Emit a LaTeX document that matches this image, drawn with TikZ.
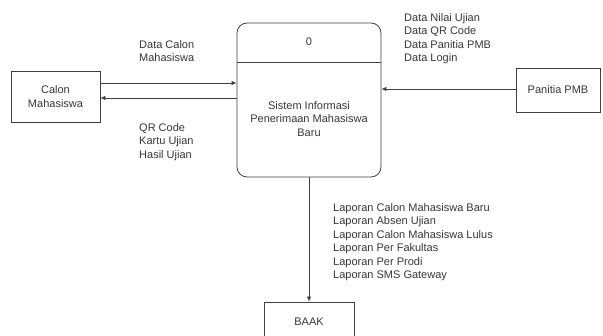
\documentclass[tikz,border=0pt]{standalone}
\usepackage{fontspec}
\setmainfont{Liberation Sans}
\usetikzlibrary{arrows.meta,calc}
\definecolor{ln}{HTML}{404040}
\definecolor{tx}{HTML}{383838}
\begin{document}
\begin{tikzpicture}[x=1pt,y=-1pt,
  every node/.style={text=tx,font=\fontsize{11}{13.5}\selectfont},
  entity/.style={draw=ln,line width=0.8pt,inner sep=0pt},
  procbox/.style={draw=ln,line width=0.8pt,rounded corners=10pt,inner sep=0pt,minimum width=144pt,minimum height=154pt},
  flowlabel/.style={align=left,anchor=north west,inner sep=0pt},
  arr/.style={draw=ln,line width=0.8pt,-{Latex[length=5pt,width=4.5pt]}}]
\clip (0,0) rectangle (603,336);
\fill[white] (0,0) rectangle (603,336);
% entities
\node[entity,minimum width=89pt,minimum height=51pt,align=center] (cm) at (55.5,96.5) {Calon\\Mahasiswa};
\node[entity,minimum width=84pt,minimum height=44pt] (pan) at (558,90) {Panitia PMB};
\node[entity,minimum width=90pt,minimum height=40pt] (baak) at (309,322) {BAAK};
% process
\node[procbox] (proc) at (309,100) {};
\node[inner sep=0pt] (pid) at (309,42) {0};
\node[align=center,inner sep=0pt] (pname) at (309,119) {Sistem Informasi\\Penerimaan Mahasiswa\\Baru};
\draw[ln,line width=0.8pt] (proc.west |- 0,62) -- (proc.east |- 0,62);
% flows
\coordinate (ta) at (0,83);
\coordinate (tb) at (0,98);
\draw[arr] (cm.east |- ta) -- (proc.west |- ta);
\draw[arr] (proc.west |- tb) -- (cm.east |- tb);
\draw[arr] (pan.west |- 0,89) -- (proc.east |- 0,89);
\draw[arr] (proc.south) -- (baak.north);
% labels
\node[flowlabel] (l1) at (139,40) {Data Calon\\Mahasiswa};
\node[flowlabel] (l2) at (139,123) {QR Code\\Kartu Ujian\\Hasil Ujian};
\node[flowlabel] (l3) at (404,13) {Data Nilai Ujian\\Data QR Code\\Data Panitia PMB\\Data Login};
\node[flowlabel] (l4) at (333,203) {Laporan Calon Mahasiswa Baru\\Laporan Absen Ujian\\Laporan Calon Mahasiswa Lulus\\Laporan Per Fakultas\\Laporan Per Prodi\\Laporan SMS Gateway};
\end{tikzpicture}
\end{document}
